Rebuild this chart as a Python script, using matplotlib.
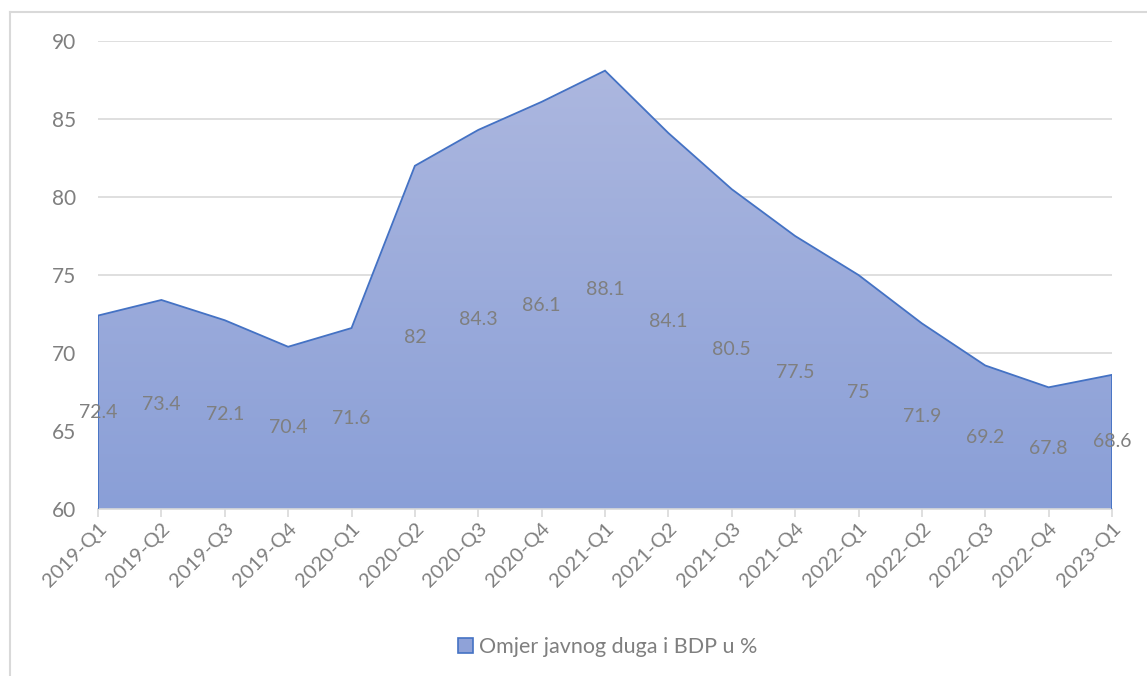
import matplotlib
matplotlib.use('Agg')
import matplotlib.pyplot as plt
import numpy as np
from matplotlib.patches import Rectangle
from matplotlib.lines import Line2D
from matplotlib.colors import LinearSegmentedColormap

quarters = ['2019-Q1', '2019-Q2', '2019-Q3', '2019-Q4', '2020-Q1', '2020-Q2',
            '2020-Q3', '2020-Q4', '2021-Q1', '2021-Q2', '2021-Q3', '2021-Q4',
            '2022-Q1', '2022-Q2', '2022-Q3', '2022-Q4', '2023-Q1']
debt_ratio = [72.4, 73.4, 72.1, 70.4, 71.6, 82, 84.3, 86.1, 88.1, 84.1,
              80.5, 77.5, 75, 71.9, 69.2, 67.8, 68.6]
label_text = ['72.4', '73.4', '72.1', '70.4', '71.6', '82', '84.3', '86.1',
              '88.1', '84.1', '80.5', '77.5', '75', '71.9', '69.2', '67.8', '68.6']

plt.rcParams['font.family'] = ['Lato', 'DejaVu Sans']
grey = '#7f7f7f'
blue = '#4472c4'

fig = plt.figure(figsize=(11.47, 6.76), dpi=100)
ax = fig.add_axes([98/1147, 1-509/676, (1112-98)/1147, (509-41)/676])

x = np.arange(len(quarters))
base = 60

# gradient fill under the curve
poly = ax.fill_between(x, base, debt_ratio, color='none', lw=0, zorder=2)
cmap = LinearSegmentedColormap.from_list('g', ['#8a9fd7', '#acb7df'])
grad = np.linspace(0, 1, 256).reshape(-1, 1)
im = ax.imshow(grad, cmap=cmap, aspect='auto', origin='lower',
               extent=[x[0], x[-1], base, max(debt_ratio)], zorder=2)
im.set_clip_path(poly.get_paths()[0], transform=ax.transData)

# outline incl. left/right edges
ox = np.concatenate([[x[0]], x, [x[-1]]])
oy = np.concatenate([[base], debt_ratio, [base]])
ax.plot(ox, oy, color=blue, lw=1.3, zorder=3, solid_joinstyle='miter')

# data labels at the middle of the area
for xi, v, t in zip(x, debt_ratio, label_text):
    ax.text(xi, (base + v) / 2, t, ha='center', va='center', fontsize=14,
            color=grey, zorder=4)

ax.set_xlim(x[0], x[-1])
ax.set_ylim(60, 90)
ax.set_yticks(np.arange(60, 91, 5))
ax.yaxis.grid(True, color='#d9d9d9', lw=1.2, zorder=0)
ax.set_axisbelow(True)
for s in ['top', 'right', 'left']:
    ax.spines[s].set_visible(False)
ax.spines['bottom'].set_color('#d9d9d9')
ax.spines['bottom'].set_linewidth(1.2)
ax.tick_params(axis='y', length=0, pad=16, labelsize=15, labelcolor=grey)
ax.tick_params(axis='x', length=6, width=1.2, color='#d9d9d9', labelsize=14.5,
               labelcolor=grey, pad=2)
ax.set_xticks(x)
ax.set_xticklabels(quarters, rotation=45, ha='right', rotation_mode='anchor')

# legend
handle = Rectangle((0, 0), 1, 1, facecolor='#8fa2d8', edgecolor=blue, lw=1.2)
fig.legend([handle], ['Omjer javnog duga i BDP u %'], loc='center',
           bbox_to_anchor=(0.53, 1-647/676), frameon=False, fontsize=15.5,
           labelcolor=grey, handlelength=0.7, handleheight=0.7, handletextpad=0.3)

# chart border
fig.add_artist(Line2D([10/1147, 10/1147], [0, 1-12/676], color='#d9d9d9', lw=1.5))
fig.add_artist(Line2D([10/1147, 1], [1-12/676, 1-12/676], color='#d9d9d9', lw=1.5))

fig.savefig('out.png', dpi=100)
